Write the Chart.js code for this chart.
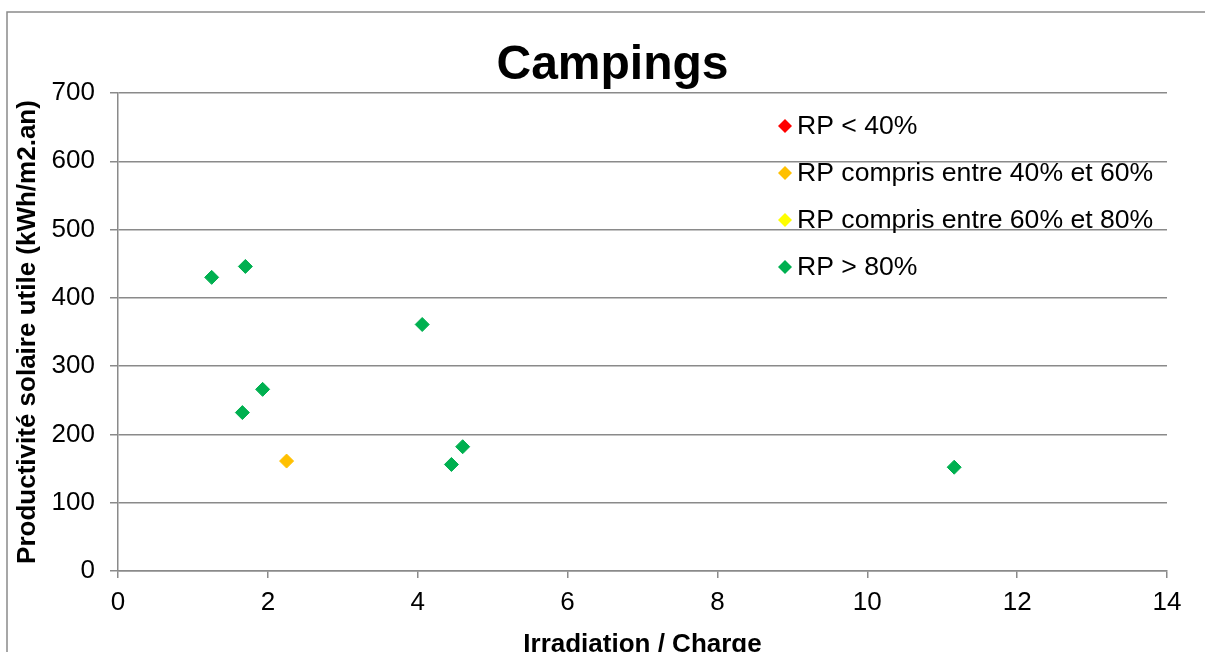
<!DOCTYPE html>
<html>
<head>
<meta charset="utf-8">
<script src="https://cdn.jsdelivr.net/npm/chart.js@4"></script>
<style>
  html, body { margin: 0; background: #fff; }
  #wrap { width: 1205px; height: 652px; position: relative; }
</style>
</head>
<body>
<div id="wrap"><canvas id="campingsChart"></canvas></div>
<script>
const seriesNames = ['RP < 40%', 'RP compris entre 40% et 60%', 'RP compris entre 60% et 80%', 'RP > 80%'];
const seriesColors = ['#FF0000', '#FFC000', '#FFFF00', '#00B050'];

// RP < 40% : aucun point
const lowX = [];
const lowY = [];
// RP 40-60%
const midX = [2.25];
const midY = [161];
// RP 60-80% : aucun point
const highX = [];
const highY = [];
// RP > 80%
const topX = [1.25, 1.70, 4.06, 1.93, 1.66, 4.45, 4.60, 11.16];
const topY = [430, 446, 361, 266, 232, 156, 182, 152];

const xTicks = [0, 2, 4, 6, 8, 10, 12, 14];
const yTicks = [0, 100, 200, 300, 400, 500, 600, 700];

const FONT = "'Liberation Sans', Arial, sans-serif";
const GRID = '#8a8a8a';

const toPoints = (xs, ys) => xs.map((x, i) => ({ x, y: ys[i] }));
const seriesData = [
  toPoints(lowX, lowY),
  toPoints(midX, midY),
  toPoints(highX, highY),
  toPoints(topX, topY),
];

const ctx = document.getElementById('campingsChart');

new Chart(ctx, {
  type: 'scatter',
  data: {
    datasets: seriesNames.map((name, i) => ({
      label: name,
      data: seriesData[i],
      backgroundColor: seriesColors[i],
      borderColor: seriesColors[i],
      borderWidth: 1,
      pointStyle: 'rectRot',
      pointRadius: 7,
      pointHoverRadius: 7,
    })),
  },
  options: {
    responsive: true,
    maintainAspectRatio: false,
    animation: false,
    layout: {
      padding: { left: 8, right: 38, top: 93, bottom: 0 },
    },
    plugins: {
      legend: { display: false },
      tooltip: { enabled: false },
      title: { display: false },
      chartHeading: {
        text: 'Campings',
      },
    },
    scales: {
      x: {
        type: 'linear',
        min: xTicks[0],
        max: xTicks[xTicks.length - 1],
        afterBuildTicks(scale) {
          scale.ticks = xTicks.map((v) => ({ value: v }));
        },
        afterFit(scale) {
          scale.height = 81;
        },
        grid: {
          drawOnChartArea: false,
          color: GRID,
          lineWidth: 1.5,
          tickLength: 7,
        },
        border: { color: GRID, width: 1.5 },
        ticks: {
          color: '#000',
          padding: 9,
          font: { family: FONT, size: 26 },
        },
        title: {
          display: true,
          text: 'Irradiation / Charge',
          color: '#000',
          font: { family: FONT, size: 26, weight: 'bold', lineHeight: 0.85 },
          padding: { top: 0, bottom: -4 },
        },
      },
      y: {
        type: 'linear',
        min: yTicks[0],
        max: yTicks[yTicks.length - 1],
        afterBuildTicks(scale) {
          scale.ticks = yTicks.map((v) => ({ value: v }));
        },
        afterFit(scale) {
          scale.width = 110;
        },
        grid: {
          color: GRID,
          lineWidth: 1.5,
          tickLength: 8,
        },
        border: { color: GRID, width: 1.5 },
        ticks: {
          color: '#000',
          padding: 15,
          font: { family: FONT, size: 26 },
        },
        title: {
          display: true,
          text: 'Productivité solaire utile (kWh/m2.an)',
          color: '#000',
          font: { family: FONT, size: 26, weight: 'bold', lineHeight: 1.2 },
          padding: { top: 4, bottom: 0 },
        },
      },
    },
  },
  plugins: [
    {
      id: 'frameBorder',
      beforeDraw(chart) {
        const { ctx } = chart;
        ctx.save();
        ctx.fillStyle = '#fff';
        ctx.fillRect(0, 0, chart.width, chart.height);
        ctx.strokeStyle = GRID;
        ctx.lineWidth = 1.5;
        ctx.strokeRect(7, 12, chart.width + 50, chart.height + 50);
        ctx.restore();
      },
    },
    {
      id: 'chartHeading',
      afterDraw(chart) {
        const options = chart.options.plugins.chartHeading;
        if (!options || !options.text) return;
        const { ctx } = chart;
        ctx.save();
        ctx.fillStyle = '#000';
        ctx.font = `bold 48px ${FONT}`;
        ctx.textAlign = 'center';
        ctx.textBaseline = 'middle';
        // centré sur le cadre, comme l'original
        ctx.fillText(options.text, chart.width / 2 + 10, 66);
        ctx.restore();
      },
    },
    {
      id: 'insideLegend',
      afterDraw(chart) {
        const { ctx, chartArea } = chart;
        if (!chartArea) return;
        const x0 = chartArea.right - 382;
        const y0 = chartArea.top + 33;
        const gap = 47;
        ctx.save();
        chart.data.datasets.forEach((ds, i) => {
          const y = y0 + i * gap;
          // losange
          ctx.fillStyle = ds.backgroundColor;
          ctx.beginPath();
          ctx.moveTo(x0 - 7, y);
          ctx.lineTo(x0, y - 7);
          ctx.lineTo(x0 + 7, y);
          ctx.lineTo(x0, y + 7);
          ctx.closePath();
          ctx.fill();
          // libellé
          ctx.fillStyle = '#000';
          ctx.font = `26.6px ${FONT}`;
          ctx.textBaseline = 'middle';
          ctx.textAlign = 'left';
          ctx.fillText(ds.label, x0 + 12, y + 1);
        });
        ctx.restore();
      },
    },
  ],
});
</script>
</body>
</html>
